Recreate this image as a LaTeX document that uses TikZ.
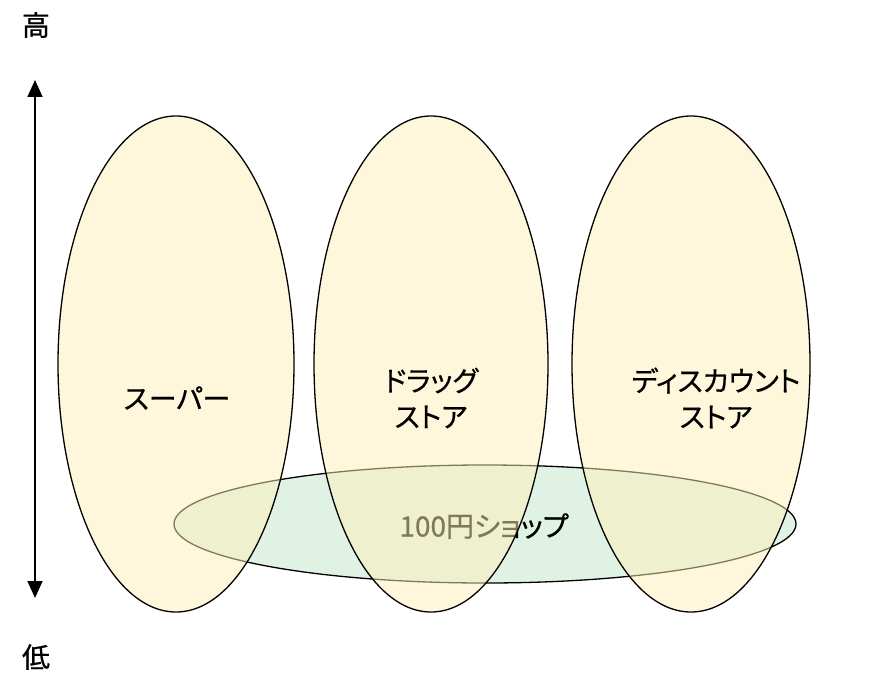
\documentclass[tikz,border=0pt]{standalone}
\usepackage{fontspec}
\newfontfamily\jp[RawFeature=+palt,FakeBold=0.6]{Noto Sans CJK JP}
\usetikzlibrary{shapes.geometric,arrows.meta}
\definecolor{creamfill}{RGB}{255,240,186}
\definecolor{shopgreen}{RGB}{223,242,228}
\tikzset{
  store/.style={ellipse, draw=black, line width=1.3pt, fill=creamfill, fill opacity=0.5, text opacity=1, inner sep=0pt},
  shop/.style={ellipse, draw=black, line width=1.3pt, fill=shopgreen, inner sep=0pt},
  lbl/.style={font=\jp\fontsize{28}{36}\selectfont, align=center, text=black, inner sep=0pt},
  axis/.style={line width=1.8pt, {Triangle[length=17pt,width=15pt]}-{Triangle[length=17pt,width=15pt]}}
}
\begin{document}
\begin{tikzpicture}[x=1pt,y=-1pt]
\useasboundingbox (0,0) rectangle (872,674);
% 100 yen shop ellipse (below)
\node[shop, minimum width=622pt, minimum height=118pt] (shop) at (485,524) {};
\node[lbl] (shoplbl) at (484,526) {100円ショップ};
% stores
\node[store, minimum width=236pt, minimum height=496pt] (super) at (176,364) {};
\node[store, minimum width=234pt, minimum height=496pt] (drug) at (431,364) {};
\node[store, minimum width=238pt, minimum height=496pt] (disc) at (691,364) {};
\node[lbl] (superlbl) at (177,398) {スーパー};
\node[lbl] (druglbl) at (431,398) {ドラッグ\\ストア};
\node[lbl] (disclbl) at (716,398) {ディスカウント\\ストア};
% axis
\coordinate (top) at (35,80);
\coordinate (bot) at (35,598);
\draw[axis] (bot) -- (top);
\node[lbl] (high) at (36,25) {高};
\node[lbl] (low) at (36,657) {低};
\end{tikzpicture}
\end{document}
